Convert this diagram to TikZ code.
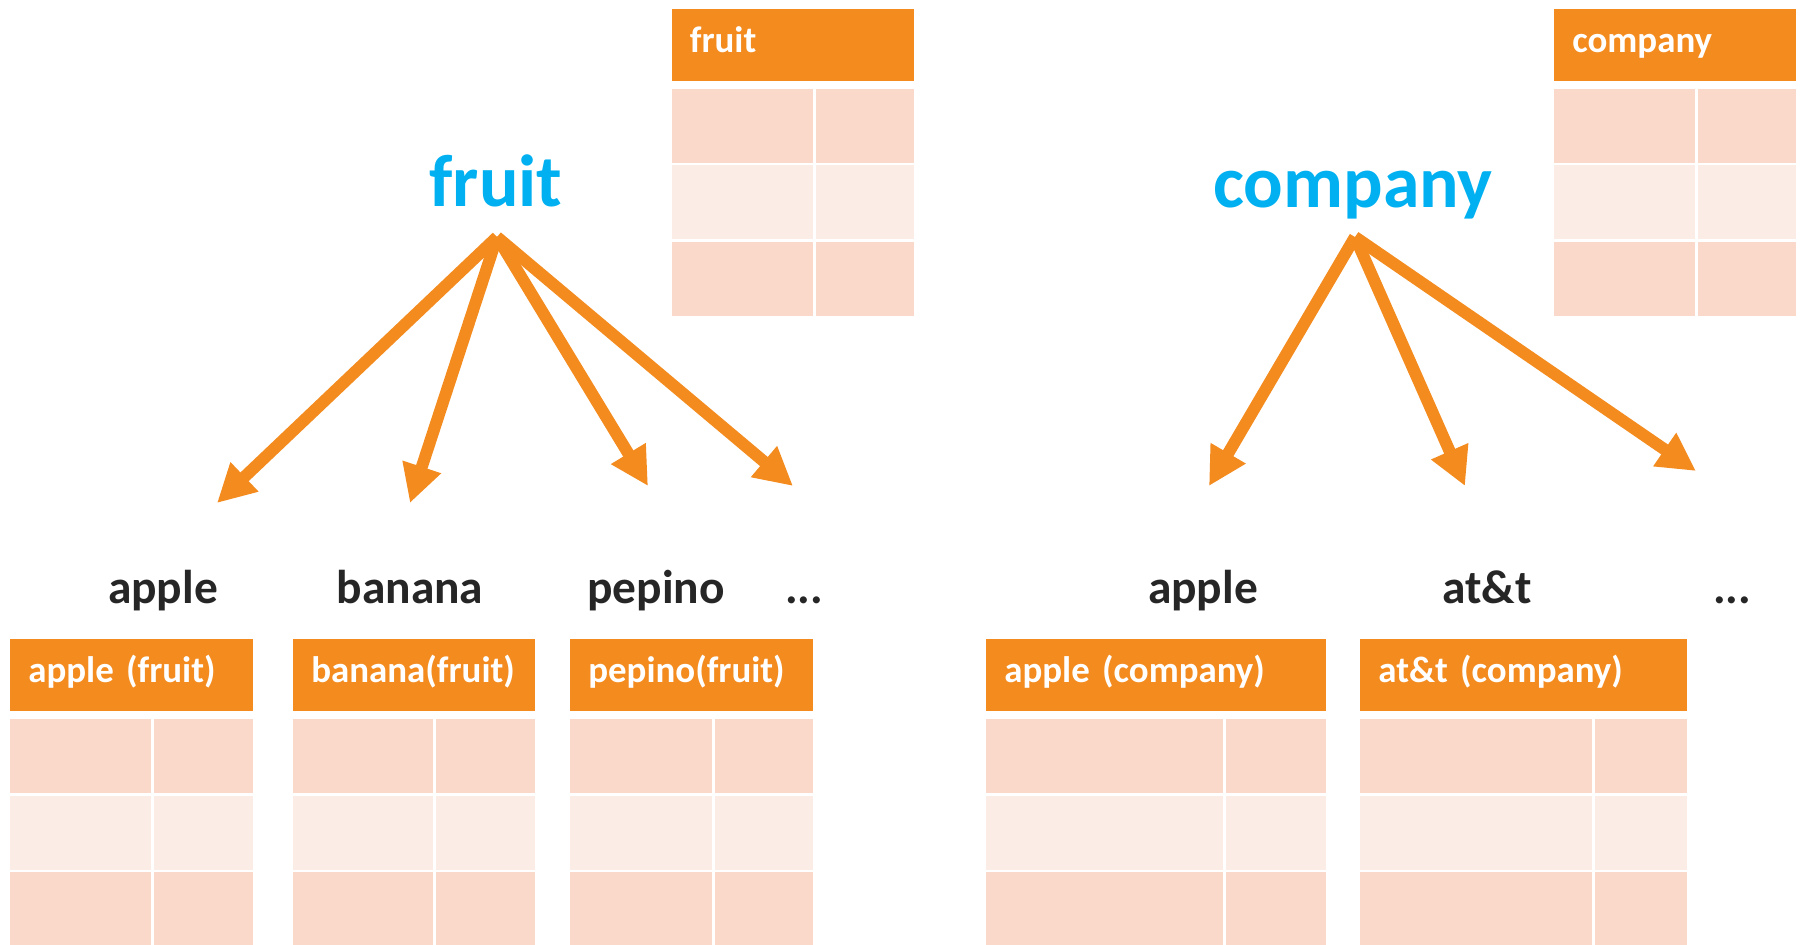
\documentclass[tikz,border=0pt]{standalone}
\usepackage{fontspec}
\setmainfont{Carlito}
\usetikzlibrary{arrows.meta}

\definecolor{hdorange}{RGB}{243,139,31}
\definecolor{celldark}{RGB}{250,217,203}
\definecolor{celllight}{RGB}{251,236,229}
\definecolor{wordblue}{RGB}{0,176,240}
\definecolor{wordgray}{RGB}{38,38,38}

% #1 name, #2 left, #3 top, #4 width, #5 first column, #6 title
\newcommand{\keytable}[6]{%
  \pgfmathsetmacro\tblw{(#4-36)*0.02}
  \node[hdr, text width=\tblw cm, anchor=north west] (#1) at (#2,#3) {#6};
  \foreach \r/\c in {0/celldark,1/celllight,2/celldark}{
    \fill[\c] (#2,#3+80+\r*76.5) rectangle ++(#5-1.5,74);
    \fill[\c] (#2+#5+1.5,#3+80+\r*76.5) rectangle (#2+#4,#3+154+\r*76.5);
  }
}

\begin{document}
\begin{tikzpicture}[
x=0.02cm, y=-0.02cm,
hdr/.style={
fill=hdorange,
text=white,
align=left,
inner xsep=0.36cm,
inner ysep=0pt,
minimum height=1.44cm,
text height=0.52cm,
text depth=0.24cm,
font=\fontsize{21}{24}\selectfont\bfseries
},
topword/.style={text=wordblue, anchor=base, inner sep=0pt, font=\fontsize{42}{46}\selectfont\bfseries},
keyword/.style={text=wordgray, anchor=base, inner sep=0pt, font=\fontsize{27}{30}\selectfont\bfseries},
arr/.style={draw=hdorange, line width=6.8pt, -{Triangle[length=0.76cm,width=0.76cm]}}
]
\useasboundingbox (0,0) rectangle (1806,945);

% tables
\keytable{tfruit}{671.5}{9}{242}{142.5}{fruit}
\keytable{tcompany}{1554}{9}{242}{142.5}{company}

\keytable{tapplef}{10}{639}{242.5}{142}{apple (fruit)}
\keytable{tbanana}{293}{639}{242}{141}{banana(fruit)}
\keytable{tpepino}{570}{639}{243}{143}{pepino(fruit)}

\keytable{tapplec}{986}{639}{340}{238}{apple (company)}
\keytable{tatt}{1360}{639}{327}{233}{at\&t (company)}

% words
\node[topword] (fruit) at (496,207) {fruit};
\node[topword] (company) at (1353,208) {company};

\node[keyword] (applef) at (163,604) {apple};
\node[keyword] (banana) at (410,604) {banana};
\node[keyword] (pepino) at (656,604) {pepino};
\node[keyword] (fdots) at (804,604) {...};

\node[keyword] (applec) at (1203,604) {apple};
\node[keyword] (att) at (1487,604) {at\&t};
\node[keyword] (cdots) at (1732,604) {...};

% arrows
\coordinate (froot) at (497,237);
\coordinate (ft1) at (217,503);
\coordinate (ft2) at (410,503);
\coordinate (ft3) at (648,486);
\coordinate (ft4) at (793,486);

\coordinate (croot) at (1355,237);
\coordinate (ct1) at (1209,486);
\coordinate (ct2) at (1465,486);
\coordinate (ct3) at (1696,471);

\draw[arr] (froot) -- (ft1);
\draw[arr] (froot) -- (ft2);
\draw[arr] (froot) -- (ft3);
\draw[arr] (froot) -- (ft4);

\draw[arr] (croot) -- (ct1);
\draw[arr] (croot) -- (ct2);
\draw[arr] (croot) -- (ct3);

\end{tikzpicture}
\end{document}
